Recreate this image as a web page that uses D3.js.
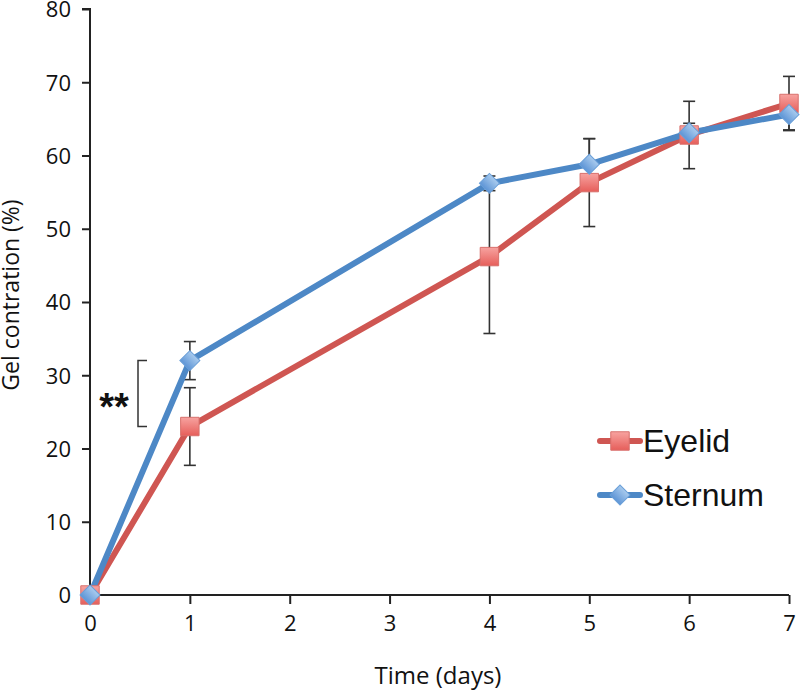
<!DOCTYPE html>
<html><head><meta charset="utf-8">
<script src="https://cdn.jsdelivr.net/npm/d3@7"></script>
<style>body{margin:0;background:#fff}</style>
</head><body><svg id="c" width="800" height="691"></svg>
<script>
const days = [0, 1, 4, 5, 6, 7];
const eyelid = [0, 23.0, 46.2, 56.3, 62.8, 67.1];
const eyelidErr = [0, 5.3, 10.5, 6.0, 4.6, 3.7];
const sternum = [0, 32.0, 56.2, 58.8, 63.1, 65.6];
const sternumErr = [0, 2.6, 1.0, 3.5, 1.3, 2.1];
const xTicks = [0, 1, 2, 3, 4, 5, 6, 7];
const yTicks = [0, 10, 20, 30, 40, 50, 60, 70, 80];
const seriesNames = ["Eyelid", "Sternum"];

const svg = d3.select("#c");
const x = d3.scaleLinear().domain([0, 7]).range([90, 789]);
const y = d3.scaleLinear().domain([0, 80]).range([595, 9]);
const fontAxis = "'Open Sans', Lato, sans-serif";

// axes
const yAxis = d3.axisLeft(y).tickValues(yTicks).tickFormat(d3.format("d")).tickSize(8).tickPadding(11);
const gy = svg.append("g").attr("transform", "translate(90,0)").call(yAxis);
const xAxis = d3.axisBottom(x).tickValues(xTicks).tickFormat(d3.format("d")).tickSize(9).tickPadding(11);
const gx = svg.append("g").attr("transform", "translate(0,595)").call(xAxis);
[gx, gy].forEach(g => {
  g.select(".domain").attr("stroke", "#222").attr("stroke-width", 2);
  g.selectAll(".tick line").attr("stroke", "#222").attr("stroke-width", 2);
  g.selectAll(".tick text").attr("fill", "#111").style("font-family", fontAxis).style("font-size", "22px");
});
gy.selectAll(".tick text").attr("dy", "0.36em");
gy.select(".domain").attr("d", "M-8," + y(80) + "H0V" + y(0));
gx.select(".domain").attr("d", "M" + x(0) + ",0H" + x(7));

svg.append("text").attr("x", 438).attr("y", 684).attr("text-anchor", "middle")
  .style("font-family", fontAxis).style("font-size", "24px").attr("fill", "#111").text("Time (days)");
svg.append("text").attr("transform", "translate(19,295) rotate(-90)").attr("text-anchor", "middle")
  .style("font-family", fontAxis).style("font-size", "23px").attr("fill", "#111").text("Gel contration (%)");

const defs = svg.append("defs");
const gr = defs.append("linearGradient").attr("id", "gRed").attr("x1", 0).attr("y1", 0).attr("x2", 0).attr("y2", 1);
gr.append("stop").attr("offset", "0").attr("stop-color", "#f7a3a0");
gr.append("stop").attr("offset", "1").attr("stop-color", "#e65e5a");
const gb = defs.append("linearGradient").attr("id", "gBlue").attr("x1", 0).attr("y1", 0).attr("x2", 0).attr("y2", 1);
gb.append("stop").attr("offset", "0").attr("stop-color", "#a9cbee");
gb.append("stop").attr("offset", "1").attr("stop-color", "#5e95d6");

const series = [
  {name: seriesNames[0], vals: eyelid, err: eyelidErr, color: "#cf5652", fill: "url(#gRed)", stroke: "#d8706c", size: 340, rot: 0},
  {name: seriesNames[1], vals: sternum, err: sternumErr, color: "#4d88c6", fill: "url(#gBlue)", stroke: "#6a9fd8", size: 200, rot: 45}
];

// error bars
series.forEach(s => {
  const g = svg.append("g");
  days.forEach((d, i) => {
    if (!s.err[i]) return;
    const cx = x(d), y1 = y(s.vals[i] + s.err[i]), y2 = y(s.vals[i] - s.err[i]);
    g.append("line").attr("x1", cx).attr("x2", cx).attr("y1", y1).attr("y2", y2).attr("stroke", "#333").attr("stroke-width", 1.6);
    [y1, y2].forEach(yy => g.append("line").attr("x1", cx - 6).attr("x2", cx + 6).attr("y1", yy).attr("y2", yy).attr("stroke", "#333").attr("stroke-width", 1.6));
  });
});

const line = d3.line().x((d, i) => x(days[i])).y(d => y(d));
series.forEach(s => {
  svg.append("path").datum(s.vals).attr("d", line).attr("fill", "none")
    .attr("stroke", s.color).attr("stroke-width", 6).attr("stroke-linejoin", "round");
});
series.forEach(s => {
  svg.append("g").selectAll("path").data(s.vals).join("path")
    .attr("transform", (d, i) => `translate(${x(days[i])},${y(d)}) rotate(${s.rot})`)
    .attr("d", d3.symbol().type(d3.symbolSquare).size(s.size))
    .attr("fill", s.fill).attr("stroke", s.stroke).attr("stroke-width", 1);
});

// significance annotation
svg.append("text").attr("x", 114).attr("y", 420).attr("text-anchor", "middle")
  .style("font-family", "'Liberation Sans', Arial, sans-serif").style("font-size", "38px").style("font-weight", "bold").attr("fill", "#111").text("**");
svg.append("path").attr("d", `M147,${y(32)}H138V${y(23)}H147`).attr("fill", "none").attr("stroke", "#333").attr("stroke-width", 1.5);

// legend
const legY = [441, 495];
series.forEach((s, i) => {
  const g = svg.append("g").attr("transform", `translate(0,${legY[i]})`);
  g.append("line").attr("x1", 600).attr("x2", 640).attr("y1", 0).attr("y2", 0).attr("stroke", s.color).attr("stroke-width", 6).attr("stroke-linecap", "round");
  g.append("path").attr("transform", `translate(620,0) rotate(${s.rot})`).attr("d", d3.symbol().type(d3.symbolSquare).size(s.size))
    .attr("fill", s.fill).attr("stroke", s.stroke).attr("stroke-width", 1);
  g.append("text").attr("x", 643).attr("y", 11).style("font-family", "'Liberation Sans', Arial, sans-serif")
    .style("font-size", "32px").attr("fill", "#111").text(s.name);
});
</script></body></html>
